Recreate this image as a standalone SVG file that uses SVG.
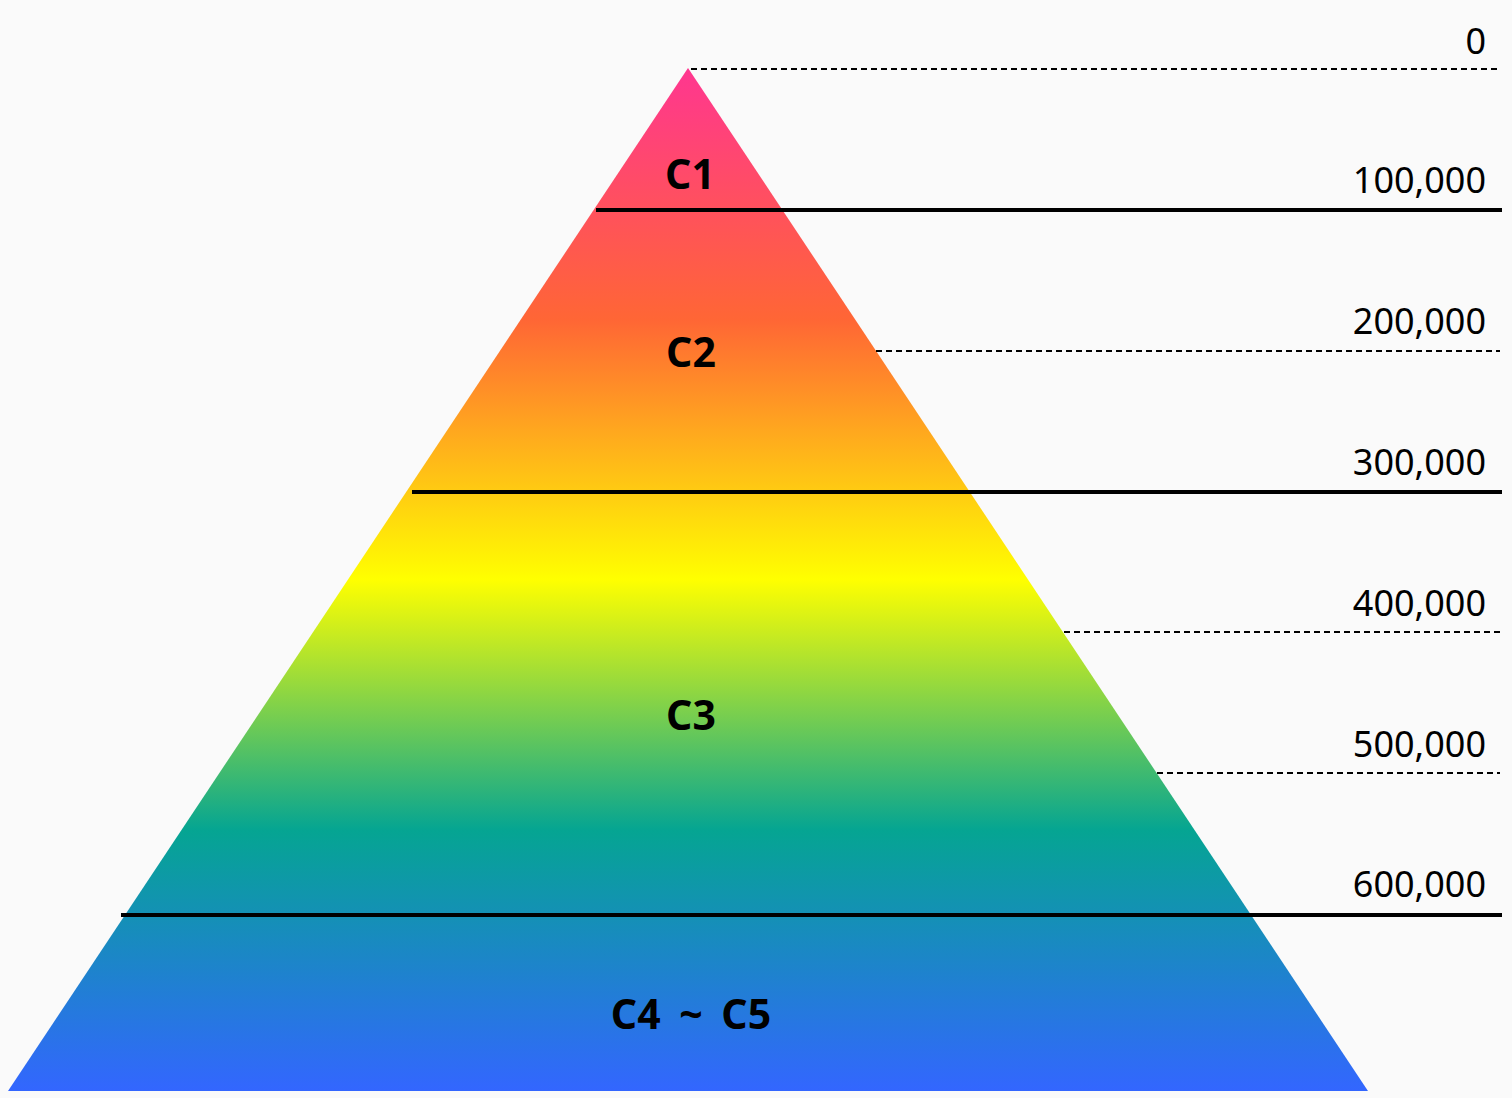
<svg xmlns="http://www.w3.org/2000/svg" width="1512" height="1098" viewBox="0 0 1512 1098">
<defs>
<linearGradient id="g" x1="0" y1="68" x2="0" y2="1091" gradientUnits="userSpaceOnUse">
<stop offset="0" stop-color="#ff3690"/>
<stop offset="0.246" stop-color="#ff6635"/>
<stop offset="0.5" stop-color="#ffff00"/>
<stop offset="0.745" stop-color="#05a592"/>
<stop offset="1" stop-color="#3366ff"/>
</linearGradient>
<style>
.lbl{font-family:"Noto Sans","Open Sans",sans-serif;font-size:36px;fill:#000;text-anchor:end}
.tier{font-family:"Noto Sans","Open Sans",sans-serif;font-size:41px;font-weight:bold;fill:#000;text-anchor:middle}
.dash{stroke:#000;stroke-width:2;stroke-dasharray:6 4;fill:none}
.solid{stroke:#000;stroke-width:4;fill:none}
</style>
</defs>
<rect width="1512" height="1098" fill="#fafafa"/>
<g id="pyramid">
<polygon points="688,68 1368,1091 8,1091" fill="url(#g)"/>
</g>
<g id="connectors">
<line class="dash" x1="691" y1="69" x2="1500" y2="69"/>
<line class="solid" x1="596" y1="210" x2="1502" y2="210"/>
<line class="dash" x1="876" y1="351" x2="1500" y2="351"/>
<line class="solid" x1="412" y1="492" x2="1502" y2="492"/>
<line class="dash" x1="1064" y1="632" x2="1500" y2="632"/>
<line class="dash" x1="1157" y1="773" x2="1500" y2="773"/>
<line class="solid" x1="121" y1="915" x2="1502" y2="915"/>
</g>
<g id="scale">
<text class="lbl" x="1486" y="54">0</text>
<text class="lbl" x="1486" y="193">100,000</text>
<text class="lbl" x="1486" y="334">200,000</text>
<text class="lbl" x="1486" y="475">300,000</text>
<text class="lbl" x="1486" y="616">400,000</text>
<text class="lbl" x="1486" y="757">500,000</text>
<text class="lbl" x="1486" y="897">600,000</text>
</g>
<g id="c1"><text class="tier" x="690" y="189">C1</text></g>
<g id="c2"><text class="tier" x="691" y="367">C2</text></g>
<g id="c3"><text class="tier" x="691" y="730">C3</text></g>
<g id="c45"><text class="tier" x="691" y="1029" word-spacing="8">C4 ~ C5</text></g>
</svg>
